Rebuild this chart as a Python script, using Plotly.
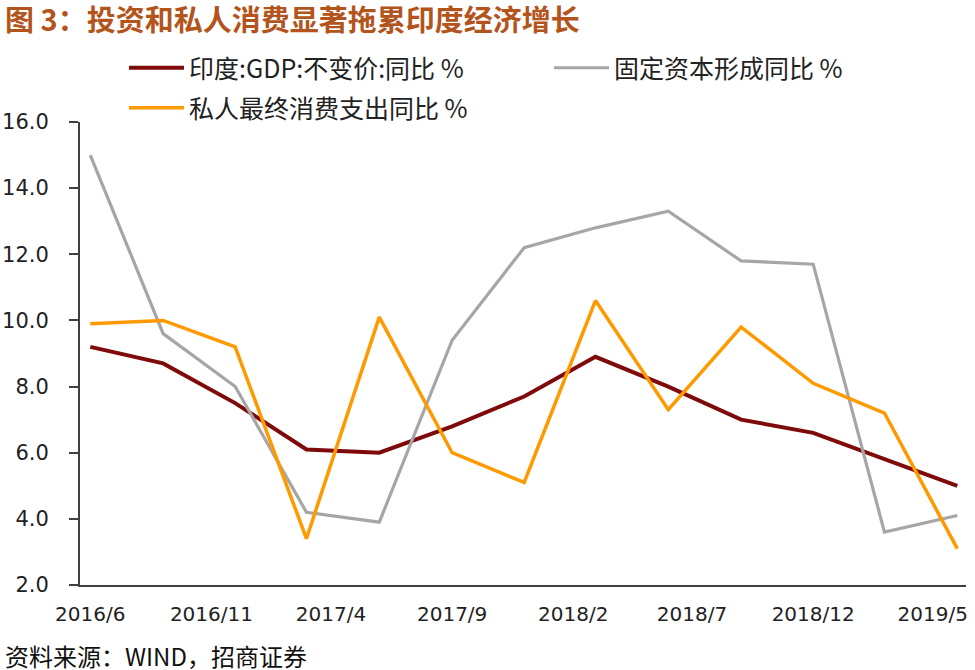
import plotly.graph_objects as go

# Data (quarterly, Wind)
dates = ["2016-06-01", "2016-09-01", "2016-12-01", "2017-03-01", "2017-06-01",
         "2017-09-01", "2017-12-01", "2018-03-01", "2018-06-01", "2018-09-01",
         "2018-12-01", "2019-03-01", "2019-06-01"]
gdp = [9.2, 8.7, 7.5, 6.1, 6.0, 6.8, 7.7, 8.9, 8.0, 7.0, 6.6, 5.8, 5.0]
gfcf = [15.0, 9.6, 8.0, 4.2, 3.9, 9.4, 12.2, 12.8, 13.3, 11.8, 11.7, 3.6, 4.1]
pfce = [9.9, 10.0, 9.2, 3.4, 10.1, 6.0, 5.1, 10.6, 7.3, 9.8, 8.1, 7.2, 3.1]

tick_vals = ["2016-06-01", "2016-11-01", "2017-04-01", "2017-09-01",
             "2018-02-01", "2018-07-01", "2018-12-01", "2019-05-01"]
tick_text = ["2016/6", "2016/11", "2017/4", "2017/9", "2018/2", "2018/7", "2018/12", "2019/5"]

names = ["印度:GDP:不变价:同比 %", "固定资本形成同比 %", "私人最终消费支出同比 %"]

CJK = "Noto Sans CJK SC"
NUM = "DejaVu Sans"

L, R, T, B = 80, 9, 122, 85
PW, PH = 975 - L - R, 670 - T - B


def px_x(x):
    return (x - L) / PW


def px_y(y):
    return (670 - B - y) / PH


fig = go.Figure()
fig.add_trace(go.Scatter(x=dates, y=gdp, mode="lines", name=names[0],
                         line=dict(color="#7F0A0A", width=4), legend="legend"))
fig.add_trace(go.Scatter(x=dates, y=gfcf, mode="lines", name=names[1],
                         line=dict(color="#A6A6A6", width=3.2), legend="legend2"))
fig.add_trace(go.Scatter(x=dates, y=pfce, mode="lines", name=names[2],
                         line=dict(color="#FF9900", width=3.5), legend="legend3"))

leg_font = dict(family=CJK, size=25, color="#222222")
leg_common = dict(orientation="h", xanchor="left", yanchor="middle",
                  font=leg_font, bgcolor="rgba(0,0,0,0)", itemwidth=55)

fig.update_layout(
    width=975, height=670,
    margin=dict(l=L, r=R, t=T, b=B, autoexpand=False),
    paper_bgcolor="white", plot_bgcolor="white",
    showlegend=True,
    legend=dict(x=px_x(124), y=px_y(68), **leg_common),
    legend2=dict(x=px_x(549), y=px_y(68), **leg_common),
    legend3=dict(x=px_x(124), y=px_y(108), **leg_common),
    xaxis=dict(type="date", range=["2016-05-19", "2019-06-12"],
               tickvals=tick_vals, ticktext=tick_text,
               showgrid=False, zeroline=False, showline=True,
               linecolor="#404040", linewidth=2, ticks="",
               ticklabelstandoff=10,
               tickfont=dict(family=NUM, size=20, color="#222222")),
    yaxis=dict(range=[2, 16], dtick=2, tick0=2, tickformat=".1f",
               showgrid=False, zeroline=False, showline=True,
               linecolor="#404040", linewidth=2, ticks="outside",
               ticklen=9, tickwidth=2, tickcolor="#404040",
               ticklabelstandoff=16,
               tickfont=dict(family=NUM, size=21, color="#222222")),
    annotations=[
        dict(text="<b>图 3：投资和私人消费显著拖累印度经济增长</b>", xref="paper", yref="paper",
             x=px_x(3), y=px_y(18), xanchor="left", yanchor="middle", showarrow=False,
             font=dict(family=CJK, size=29, color="#B3541C")),
        dict(text="资料来源：WIND，招商证券", xref="paper", yref="paper",
             x=px_x(3), y=px_y(655), xanchor="left", yanchor="middle",
             showarrow=False, font=dict(family=CJK, size=24, color="#111111")),
    ],
)

fig.write_html("out.html", config={"displayModeBar": False},
               post_script="document.body.style.margin='0';document.body.style.padding='0';")
